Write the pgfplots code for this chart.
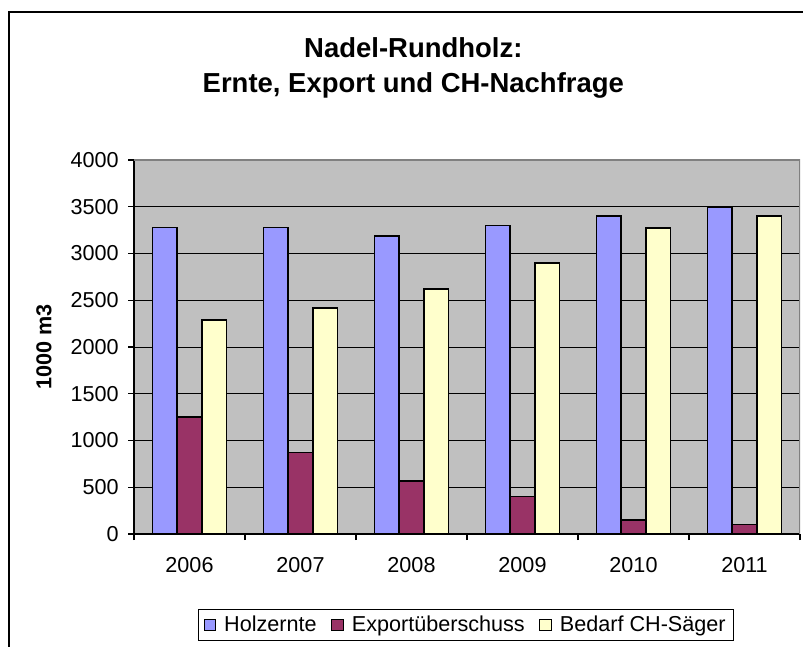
\documentclass[border=0pt]{standalone}
\usepackage{fontspec}
\setmainfont{Liberation Sans}
\usepackage{pgfplots}
\pgfplotsset{compat=1.18}
\definecolor{holz}{HTML}{9999FF}
\definecolor{expo}{HTML}{993366}
\definecolor{bed}{HTML}{FFFFCC}
\definecolor{plotbg}{HTML}{C0C0C0}
\definecolor{frame}{HTML}{808080}
\begin{document}
\begin{tikzpicture}
\useasboundingbox (0,0) rectangle (602.25pt,484.5pt);
\draw[line width=1.3pt] (6.75pt,-5pt) -- (6.75pt,475.5pt) -- (610pt,475.5pt);
\node[font=\fontsize{20.6}{24}\selectfont\bfseries, anchor=base] at (310pt,441pt) {Nadel-Rundholz:};
\node[font=\fontsize{20.6}{24}\selectfont\bfseries, anchor=base] at (310pt,415pt) {Ernte, Export und CH-Nachfrage};
\node[font=\fontsize{16.2}{19}\selectfont\bfseries, rotate=90] at (33pt,224.25pt) {1000 m3};
\begin{axis}[
  at={(100.5pt,84pt)}, anchor=south west, scale only axis,
  width=499.5pt, height=280.5pt,
  ybar=0pt, bar width=18.5pt,
  xmin=-0.5, xmax=5.5, ymin=0, ymax=4000,
  xtick={-0.5,0.5,...,5.5}, x tick label as interval,
  xticklabels={2006,2007,2008,2009,2010,2011},
  ytick={0,500,...,4000},
  axis x line*=bottom, axis y line*=left,
  axis line style={black, line width=0.8pt},
  tick align=outside, major tick length=4.5pt,
  tick style={black, line width=0.8pt},
  ymajorgrids, major grid style={black, line width=0.6pt},
  axis background/.style={fill=plotbg},
  ticklabel style={font=\fontsize{16.2}{19}\selectfont},
  xticklabel style={yshift=-9.5pt},
  yticklabel style={xshift=-3.5pt},
  /pgf/number format/assume math mode=true,
  /pgf/number format/1000 sep={},
  legend columns=3,
  legend style={at={(0.4985,-0.2433)}, anchor=center, draw=black, line width=0.8pt,
    font=\fontsize{16.2}{19}\selectfont, inner xsep=4pt, inner ysep=3pt,
    /tikz/every odd column/.append style={column sep=4pt},
    /tikz/every even column/.append style={column sep=9pt}},
  every axis plot post/.append style={legend image code/.code={
    \draw[#1,line width=0.8pt] (0pt,-4.3pt) rectangle (8.6pt,4.3pt);}},
]
\addplot[fill=holz, draw=black, line width=1.2pt] coordinates
  {(0,3280) (1,3280) (2,3190) (3,3300) (4,3400) (5,3500)};
\addplot[fill=expo, draw=black, line width=1.2pt] coordinates
  {(0,1250) (1,870) (2,570) (3,400) (4,150) (5,100)};
\addplot[fill=bed, draw=black, line width=1.2pt] coordinates
  {(0,2290) (1,2420) (2,2620) (3,2900) (4,3270) (5,3400)};
\legend{Holzernte, Exportüberschuss, Bedarf CH-Säger}
\draw[frame, line width=1pt] (rel axis cs:0,1) -- (rel axis cs:1,1) -- (rel axis cs:1,0);
\end{axis}
\end{tikzpicture}
\end{document}
